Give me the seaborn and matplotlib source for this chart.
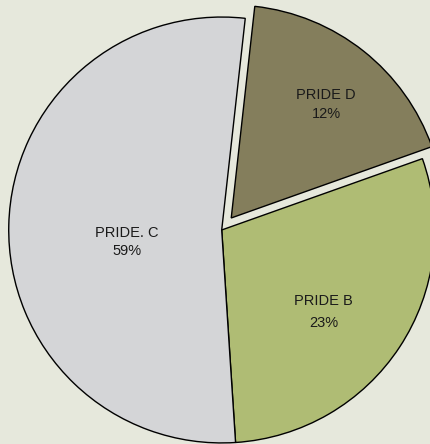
import numpy as np
import seaborn as sns
import matplotlib
matplotlib.use("Agg")
import matplotlib.pyplot as plt

# slices, clockwise from the top (sizes)
categories = ["PRIDE D", "PRIDE B", "PRIDE. C"]
shares = [17.8, 29.4, 52.8]
pct_labels = ["12%", "23%", "59%"]
colors = ["#847e5c", "#afbc74", "#d4d5d7"]
explode = [0.072, 0, 0]

# label spot inside each wedge, relative to the wedge centre (in radii)
label_dx = [0.446, 0.478, -0.446]
label_dy = [0.532, -0.385, -0.056]
line_sp = [1.4, 1.65, 1.3]

sns.set_style("white")
plt.rcParams["font.family"] = ["Liberation Sans", "DejaVu Sans"]

bg = "#e6e8dc"
fig = plt.figure(figsize=(4.30, 4.44), dpi=100, facecolor=bg)
ax = fig.add_axes([0, 0, 1, 1])
ax.set_facecolor(bg)

wedges, _ = ax.pie(shares, colors=colors, explode=explode, startangle=83.65,
                   counterclock=False, radius=1,
                   wedgeprops=dict(edgecolor="black", linewidth=1.0))

for w, name, pct, dx, dy, ls in zip(wedges, categories, pct_labels,
                                    label_dx, label_dy, line_sp):
    cx, cy = w.center
    ax.text(cx + dx * w.r, cy + dy * w.r, name + "\n" + pct,
            ha="center", va="center", fontsize=10.5, color="#1a1a1a",
            linespacing=ls)

ax.set_xlim(-1.041, 0.978)
ax.set_ylim(-1.005, 1.080)
ax.set_aspect("auto")
ax.axis("off")

fig.savefig("out.png", dpi=100, facecolor=bg)
